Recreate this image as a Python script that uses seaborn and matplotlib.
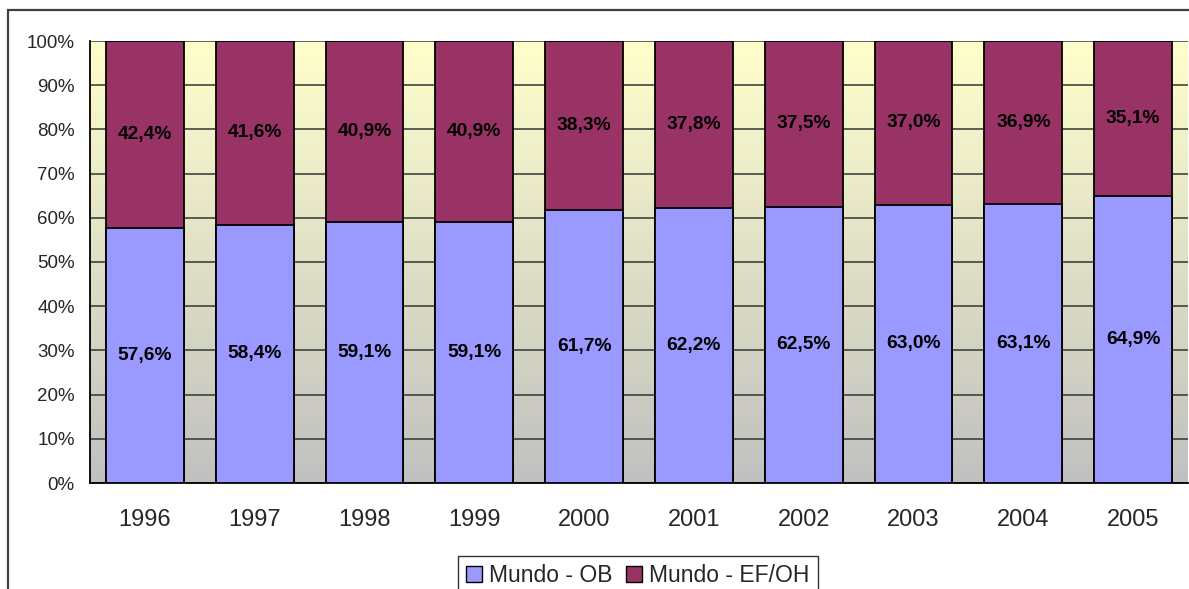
import numpy as np
import pandas as pd
import matplotlib
matplotlib.use("Agg")
import matplotlib.pyplot as plt
from matplotlib.colors import LinearSegmentedColormap
from matplotlib.patches import Rectangle, Patch
import seaborn as sns

years = ["1996", "1997", "1998", "1999", "2000", "2001", "2002", "2003", "2004", "2005"]
ob = [57.6, 58.4, 59.1, 59.1, 61.7, 62.2, 62.5, 63.0, 63.1, 64.9]
ef_oh = [42.4, 41.6, 40.9, 40.9, 38.3, 37.8, 37.5, 37.0, 36.9, 35.1]
series_names = ["Mundo - OB", "Mundo - EF/OH"]

c_ob = "#9999FF"
c_ef = "#993366"

sns.set_theme(style="white")
plt.rcParams["font.family"] = ["Liberation Sans", "DejaVu Sans"]

df = pd.DataFrame({"year": years, "ob": ob, "ef": ef_oh})
df["total"] = df["ob"] + df["ef"]

fig = plt.figure(figsize=(11.89, 5.89), dpi=100)
ax = fig.add_axes([90 / 1189, 1 - 483 / 589, 1098 / 1189, 442 / 589])

# gradient plot-area fill, pale yellow at the top to grey at the bottom
grad = np.linspace(0, 1, 256).reshape(-1, 1)
cmap = LinearSegmentedColormap.from_list("bg", ["#C0C0C0", "#FFFFCC"])
ax.imshow(grad, cmap=cmap, aspect="auto", extent=(-0.5, 9.5, 0, 100),
          origin="lower", zorder=-2, interpolation="bicubic")

# stacked columns: full stack in maroon, lower share in lavender over it
sns.barplot(data=df, x="year", y="total", color=c_ef, saturation=1, width=0.71,
            edgecolor="black", linewidth=1.3, ax=ax, zorder=3)
sns.barplot(data=df, x="year", y="ob", color=c_ob, saturation=1, width=0.71,
            edgecolor="black", linewidth=1.3, ax=ax, zorder=4)

for i, (a, b) in enumerate(zip(ob, ef_oh)):
    ax.text(i, a / 2, f"{a:.1f}%".replace(".", ","), ha="center", va="center",
            fontsize=13.8, fontweight="bold", color="black", zorder=6)
    ax.text(i, a + b / 2, f"{b:.1f}%".replace(".", ","), ha="center", va="center",
            fontsize=13.8, fontweight="bold", color="black", zorder=6)

ax.set_xlim(-0.5, 9.5)
ax.set_ylim(0, 100)
ax.set_yticks(np.arange(0, 101, 10))
ax.set_yticklabels([f"{v}%" for v in range(0, 101, 10)], fontsize=13.5)
ax.yaxis.grid(True, color="#333333", linewidth=1.1, zorder=0)
ax.xaxis.grid(False)
ax.set_axisbelow(True)

ax.set_xticks(range(len(years)))
ax.set_xticklabels(years, fontsize=17)
ax.set_xticks(np.arange(-0.5, 10, 1), minor=True)
ax.tick_params(axis="x", which="major", length=0, pad=19)
ax.tick_params(axis="x", which="minor", length=7, width=1, color="black", direction="out")
ax.tick_params(axis="y", length=6, width=1, color="black", direction="out", pad=5)
ax.set_xlabel("")
ax.set_ylabel("")

for s in ["top", "right"]:
    ax.spines[s].set_visible(False)
for s in ["left", "bottom"]:
    ax.spines[s].set_color("black")
    ax.spines[s].set_linewidth(1.3)

handles = [Patch(facecolor=c_ob, edgecolor="black", linewidth=1),
           Patch(facecolor=c_ef, edgecolor="black", linewidth=1)]
leg = fig.legend(handles, series_names, loc="lower center", ncol=2,
                 bbox_to_anchor=(638 / 1189, -0.03), fontsize=16.5, frameon=True,
                 fancybox=False, handlelength=0.7, handleheight=0.7,
                 handletextpad=0.3, columnspacing=0.6, borderpad=0.35)
leg.get_frame().set_edgecolor("black")
leg.get_frame().set_linewidth(1)

# chart-area border
fig.patches.append(Rectangle((8 / 1189, -0.2), 1.5, 1.2 - 10 / 589,
                             transform=fig.transFigure, fill=False,
                             edgecolor="#404040", linewidth=1.6))

fig.savefig("out.png", dpi=100)
